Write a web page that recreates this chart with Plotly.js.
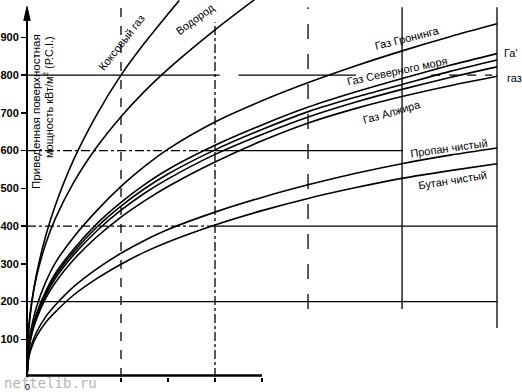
<!DOCTYPE html>
<html>
<head>
<meta charset="utf-8">
<script src="https://cdn.plot.ly/plotly-3.0.1.min.js"></script>
<style>html,body{margin:0;padding:0;background:#fff;}#chart{width:522px;height:392px;}</style>
</head>
<body>
<div id="chart"></div>
<script>
// ---- data ----
var xFull = [0, 0.02, 0.05, 0.1, 0.2, 0.3, 0.5, 0.75, 1, 1.25, 1.5, 2, 2.5, 3, 3.5, 4, 4.5, 5];

var xKoks = [0, 0.02, 0.05, 0.1, 0.2, 0.3, 0.5, 0.75, 1, 1.25, 1.5, 1.62];
var koks  = [0, 127, 196, 271, 375, 454, 578, 699, 800, 885, 962, 998];

var xHydro = [0, 0.02, 0.05, 0.1, 0.2, 0.3, 0.5, 0.75, 1, 1.25, 1.5, 2, 2.42];
var hydro  = [0, 136, 199, 265, 354, 419, 517, 612, 690, 757, 816, 920, 1000];

var groningen = [0, 90, 135, 185, 252, 302, 372, 443, 505, 558, 604, 676, 732, 781, 825, 865, 902, 936];
var gasA      = [0, 81, 122, 167, 228, 274, 340, 408, 463, 510, 550, 614, 668, 716, 756, 792, 826, 857];
var northSea  = [0, 79, 119, 163, 223, 268, 333, 399, 453, 499, 538, 602, 656, 704, 742, 776, 810, 840];
var gasC      = [0, 77, 116, 159, 217, 261, 325, 389, 442, 487, 525, 590, 643, 690, 729, 763, 794, 822];
var algeria   = [0, 74, 112, 153, 209, 250, 312, 373, 424, 467, 505, 570, 626, 674, 712, 744, 772, 797];
var propane   = [0, 58, 87, 118, 160, 190, 240, 288, 328, 362, 391, 437, 476, 510, 540, 566, 588, 607];
var butane    = [0, 53, 79, 107, 145, 172, 218, 262, 299, 331, 358, 403, 441, 474, 502, 527, 547, 565];

var yTicks = [100, 200, 300, 400, 500, 600, 700, 800, 900];
var xTicks = [1, 1.5, 2, 2.5];

var labels = {
  koks: "Коксовый газ",
  hydro: "Водород",
  groningen: "Газ Гронинга",
  northSea: "Газ Северного моря",
  algeria: "Газ Алжира",
  propane: "Пропан чистый",
  butane: "Бутан чистый",
  cutA: "Га'",
  cutB: "газ"
};
var yTitle1 = "Приведенная поверхностная";
var yTitle2 = "мощность кВт/м<sup>2</sup> (Р.С.І.)";

// ---- drawing ----
var FONT = "Liberation Sans, Arial, sans-serif";
function curve(xs, ys) {
  return {x: xs, y: ys, type: 'scatter', mode: 'lines', hoverinfo: 'skip',
          line: {color: '#000', width: 1.6, shape: 'spline', smoothing: 0.8}};
}
var traces = [
  curve(xKoks, koks), curve(xHydro, hydro),
  curve(xFull, groningen), curve(xFull, gasA), curve(xFull, northSea),
  curve(xFull, gasC), curve(xFull, algeria),
  curve(xFull, propane), curve(xFull, butane)
];

function hseg(y, x0, x1, dash) {
  return {type: 'line', xref: 'x', yref: 'y', x0: x0, x1: x1, y0: y, y1: y,
          line: {color: '#000', width: 1.3, dash: dash || 'solid'}, layer: 'below'};
}
function vseg(x, y0, y1, dash) {
  return {type: 'line', xref: 'x', yref: 'y', x0: x, x1: x, y0: y0, y1: y1,
          line: {color: '#000', width: 1.3, dash: dash || 'solid'}, layer: 'below'};
}
var shapes = [
  {type: 'line', xref: 'paper', yref: 'y', x0: 0, x1: 0, y0: 0, y1: 960, line: {color: '#000', width: 2}},
  {type: 'path', xref: 'paper', yref: 'y', path: 'M -0.0065,945 L 0,982 L 0.0065,945 Z',
   fillcolor: '#000', line: {color: '#000', width: 1}},
  {type: 'line', xref: 'x', yref: 'paper', x0: 0, x1: 2.5, y0: 0.004, y1: 0.004, line: {color: '#000', width: 2.5}},
  hseg(800, 0, 2.05), hseg(800, 2.25, 3.5), hseg(800, 4.3, 4.95, 'dash'),
  hseg(600, 0, 1.86, 'dashdot'), hseg(600, 1.86, 4.0),
  hseg(400, 0, 2.0, 'dashdot'), hseg(400, 2.0, 5.0),
  hseg(200, 0, 5.0),
  vseg(1, 0, 987, 'dash'),
  vseg(2, 0, 940, 'dashdot'),
  vseg(2.99, 180, 980, 'longdash'),
  vseg(3.99, 180, 980),
  vseg(5.0, 130, 980)
];

function lab(text, x, y, angle, extra) {
  var a = {text: text, x: x, y: y, xref: 'x', yref: 'y', showarrow: false, textangle: angle,
           xanchor: 'center', yanchor: 'middle',
           font: {family: FONT, size: 11, color: '#000'}};
  if (extra) for (var k in extra) a[k] = extra[k];
  return a;
}
var annotations = [
  lab(labels.koks, 1.0, 886, -52),
  lab(labels.hydro, 1.79, 948, -36),
  lab(labels.groningen, 4.043, 898, -14),
  lab(labels.northSea, 3.936, 812, -12),
  lab(labels.algeria, 3.88, 702, -16),
  lab(labels.propane, 4.49, 607, -8),
  lab(labels.butane, 4.53, 522, -9),
  lab(labels.cutA, 5.05, 859, 0, {xanchor: 'left'}),
  lab(labels.cutB, 5.09, 792, 0, {xanchor: 'left'}),
  {text: yTitle1, xref: 'paper', yref: 'y', x: 0.018, y: 705, xanchor: 'center', yanchor: 'middle',
   showarrow: false, textangle: -90, font: {family: FONT, size: 11.5, color: '#000'}},
  {text: yTitle2, xref: 'paper', yref: 'y', x: 0.0424, y: 742, xanchor: 'center', yanchor: 'middle',
   showarrow: false, textangle: -90, font: {family: FONT, size: 11, color: '#000'}},
  {text: 'neftelib.ru', xref: 'paper', yref: 'paper', x: -0.05, y: 0, xanchor: 'left', yanchor: 'middle',
   yshift: -6, showarrow: false, font: {family: 'DejaVu Sans Mono, monospace', size: 14, color: '#b5b5b5'}},
  {text: '0', xref: 'paper', yref: 'paper', x: 0, y: 0, xanchor: 'center', yanchor: 'top', yshift: -3,
   showarrow: false, font: {family: FONT, size: 9, color: '#000'}}
];

var layout = {
  width: 522, height: 392,
  margin: {l: 27, r: 0, t: 0, b: 15, pad: 0},
  paper_bgcolor: '#fff', plot_bgcolor: '#fff',
  showlegend: false,
  xaxis: {range: [0, 5.266], showgrid: false, zeroline: false, showline: false,
          ticks: 'outside', tickvals: xTicks, ticklen: 4, tickwidth: 1.5, tickcolor: '#000',
          showticklabels: false, fixedrange: true},
  yaxis: {range: [0, 999.2], showgrid: false, zeroline: false, showline: false,
          ticks: 'outside', tickvals: yTicks, ticklen: 5, tickwidth: 1.5, tickcolor: '#000',
          tickfont: {family: FONT, size: 11, color: '#000', weight: 'bold'}, fixedrange: true},
  shapes: shapes,
  annotations: annotations
};

Plotly.newPlot('chart', traces, layout, {staticPlot: true, displayModeBar: false});
</script>
</body>
</html>
